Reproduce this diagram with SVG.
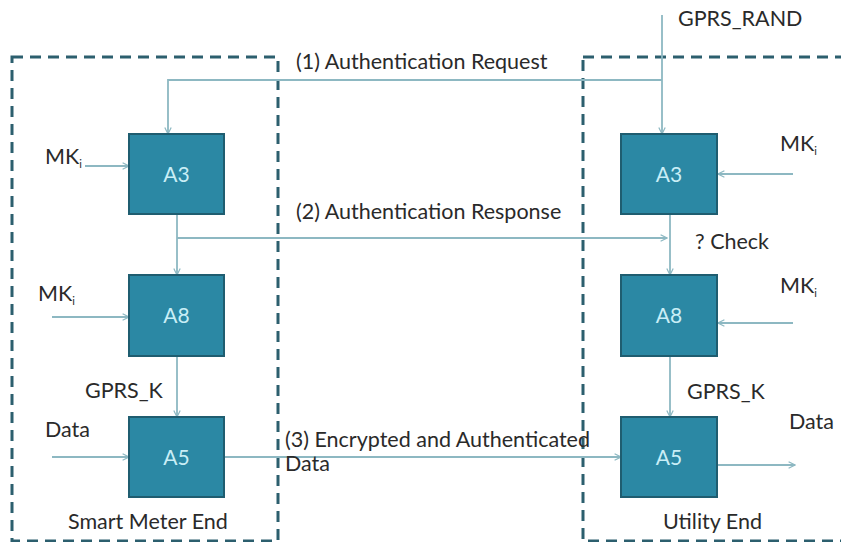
<svg xmlns="http://www.w3.org/2000/svg" width="841" height="542" viewBox="0 0 841 542">
<defs>
<marker id="arr" viewBox="0 0 10 10" refX="9" refY="5" markerWidth="8" markerHeight="8" markerUnits="userSpaceOnUse" orient="auto">
<path d="M1,1 L9,5 L1,9" fill="none" stroke="#8db8c2" stroke-width="1.5"/>
</marker>
<style>
.bg{fill:#ffffff}
.zone{fill:none;stroke:#2c5f6e;stroke-width:3;stroke-dasharray:11,7}
.blk{fill:#2b88a4;stroke:#1f5d70;stroke-width:2}
.blt{font-family:Lato,"Liberation Sans",sans-serif;font-size:21px;fill:#c9eef6;text-anchor:middle}
.lbl{font-family:Lato,"Liberation Sans",sans-serif;font-size:21.5px;fill:#2a2a2a}
.sub{font-size:11px}
.c{fill:none;stroke:#8db8c2;stroke-width:1.6}
.ca{fill:none;stroke:#8db8c2;stroke-width:1.8;marker-end:url(#arr)}
</style>
</defs>
<rect class="bg" width="841" height="542"/>
<g id="zone-smart-meter">
<rect class="zone" x="12" y="57" width="266" height="484"/>
<text class="lbl" x="68" y="529">Smart Meter End</text>
</g>
<g id="zone-utility">
<rect class="zone" x="583" y="57" width="270" height="484"/>
<text class="lbl" x="663" y="529">Utility End</text>
</g>
<g id="connectors">
<polyline class="ca" points="662,80 168,80 168,134"/>
<line class="ca" x1="662" y1="15" x2="662" y2="134"/>
<line class="ca" x1="85" y1="166" x2="129" y2="166"/>
<line class="ca" x1="177" y1="214" x2="177" y2="275"/>
<line class="ca" x1="177" y1="238" x2="667" y2="238"/>
<line class="ca" x1="670" y1="214" x2="670" y2="275"/>
<line class="ca" x1="793" y1="174" x2="718" y2="174"/>
<line class="ca" x1="52" y1="317" x2="129" y2="317"/>
<line class="ca" x1="793" y1="323" x2="718" y2="323"/>
<line class="ca" x1="177" y1="356" x2="177" y2="417"/>
<line class="ca" x1="670" y1="356" x2="670" y2="417"/>
<line class="ca" x1="52" y1="457" x2="129" y2="457"/>
<line class="ca" x1="224" y1="457" x2="621" y2="457"/>
<line class="ca" x1="718" y1="465" x2="795" y2="465"/>
</g>
<g id="left-a3"><rect class="blk" x="129" y="134" width="95" height="80"/><text class="blt" x="176.5" y="182">A3</text></g>
<g id="left-a8"><rect class="blk" x="129" y="275" width="95" height="81"/><text class="blt" x="176.5" y="323">A8</text></g>
<g id="left-a5"><rect class="blk" x="129" y="417" width="95" height="80"/><text class="blt" x="176.5" y="465">A5</text></g>
<g id="right-a3"><rect class="blk" x="621" y="134" width="96" height="80"/><text class="blt" x="669" y="182">A3</text></g>
<g id="right-a8"><rect class="blk" x="621" y="275" width="96" height="81"/><text class="blt" x="669" y="323">A8</text></g>
<g id="right-a5"><rect class="blk" x="621" y="417" width="96" height="80"/><text class="blt" x="669" y="465">A5</text></g>
<g id="labels">
<text class="lbl" x="296" y="69">(1) Authentication Request</text>
<text class="lbl" x="296" y="219">(2) Authentication Response</text>
<text class="lbl" x="695" y="249">? Check</text>
<text class="lbl" x="678" y="26">GPRS_RAND</text>
<text class="lbl" x="45" y="164">MK<tspan class="sub" dy="4">i</tspan></text>
<text class="lbl" x="780" y="151">MK<tspan class="sub" dy="4">i</tspan></text>
<text class="lbl" x="38" y="301">MK<tspan class="sub" dy="4">i</tspan></text>
<text class="lbl" x="780" y="293">MK<tspan class="sub" dy="4">i</tspan></text>
<text class="lbl" x="85" y="398">GPRS_K</text>
<text class="lbl" x="687" y="399">GPRS_K</text>
<text class="lbl" x="45" y="437">Data</text>
<text class="lbl" x="789" y="429">Data</text>
<text class="lbl" x="285" y="447">(3) Encrypted and Authenticated</text>
<text class="lbl" x="285" y="471">Data</text>
</g>
</svg>
